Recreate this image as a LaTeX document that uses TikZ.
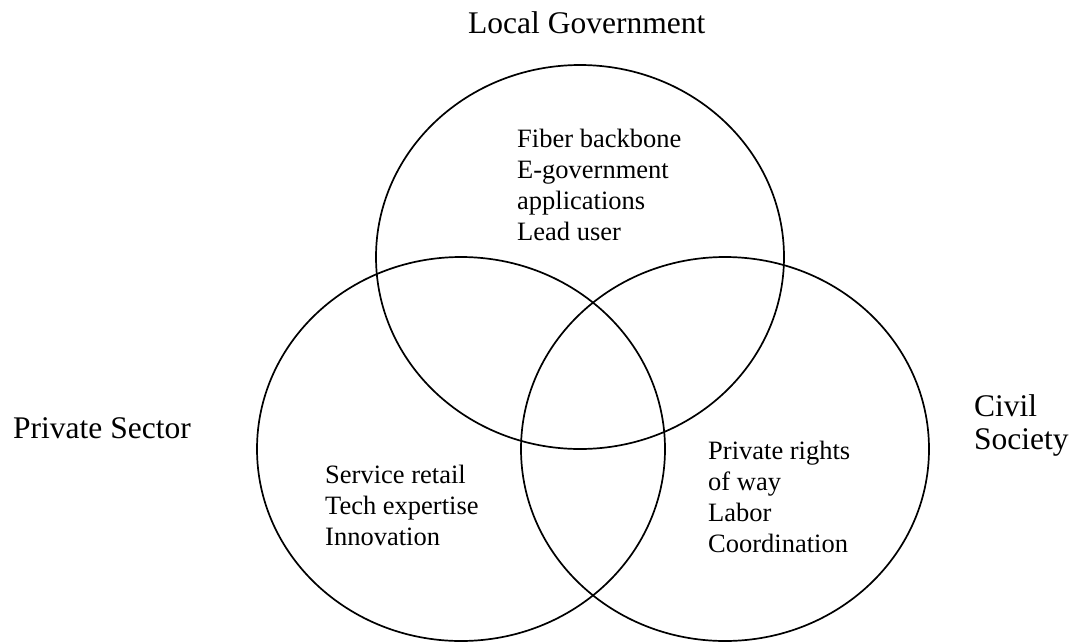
\documentclass[tikz,border=0pt]{standalone}
\usepackage{fontspec}
\setmainfont{Liberation Serif}
\begin{document}
\begin{tikzpicture}[x=1pt,y=-1pt,
  ring/.style={draw=black, line width=1.7pt},
  inner/.style={inner sep=0pt, align=left, anchor=base west, font=\fontsize{26.5}{30.7}\selectfont},
  label/.style={inner sep=0pt, align=left, anchor=base west, font=\fontsize{31.5}{33}\selectfont}]
\useasboundingbox (0,0) rectangle (1075,643);
\coordinate (ctop) at (580,257);
\coordinate (cleft) at (461,449);
\coordinate (cright) at (725,449);
\draw[ring] (ctop) ellipse [x radius=204pt, y radius=192pt];
\draw[ring] (cleft) ellipse [x radius=204pt, y radius=192pt];
\draw[ring] (cright) ellipse [x radius=204pt, y radius=192pt];
% base anchor of a multi-line node lies on its last line
\node[label] (lg) at (468,33) {Local Government};
\node[label] (ps) at (13,438) {Private Sector};
\node[label] (cs) at (974,449) {Civil\\Society};
\node[inner] (tt) at (517,240) {Fiber backbone\\E-government\\applications\\Lead user};
\node[inner] (lt) at (325,545) {Service retail\\Tech expertise\\Innovation};
\node[inner] (rt) at (708,552) {Private rights\\of way\\Labor\\Coordination};
\end{tikzpicture}
\end{document}
